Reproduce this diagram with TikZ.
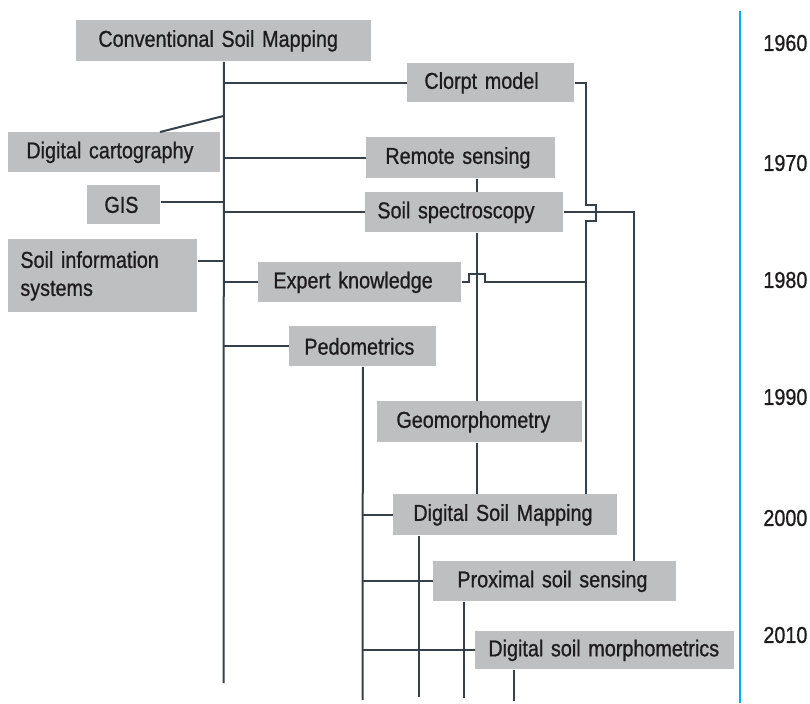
\documentclass[tikz,border=0pt]{standalone}
\usepackage{fontspec}
\setmainfont[FakeStretch=0.86, FakeBold=0.8]{Liberation Sans}
\usepackage{tikz}
\usetikzlibrary{calc,positioning}

\definecolor{boxgray}{RGB}{190,191,193}
\definecolor{linegray}{RGB}{52,64,74}
\definecolor{textdark}{RGB}{30,27,28}
\definecolor{timeblue}{RGB}{0,174,239}

\tikzset{
    box/.style={fill=boxgray, text=textdark, anchor=north west, align=left,
        minimum height=20pt, inner ysep=0pt},
    link/.style={draw=linegray, line width=1pt},
    year/.style={anchor=west, inner sep=0pt, text=textdark},
}

\begin{document}
\begin{tikzpicture}[x=0.5pt, y=-0.5pt, font=\fontsize{11.5}{14}\selectfont]
    \useasboundingbox (0,0) rectangle (810,703);

    % boxes
    \node[box, text width=125.5pt, inner xsep=11pt, minimum height=20.5pt] (csm) at (76,20) {Conventional Soil Mapping};
    \node[box, text width=66.5pt, inner xsep=8.5pt, minimum height=19.5pt] (clorpt) at (407,63) {Clorpt model};
    \node[box, text width=88pt, inner xsep=9pt] (dcart) at (8,132) {Digital cartography};
    \node[box, text width=75.5pt, inner xsep=9.5pt, minimum height=20.5pt] (rs) at (366,137) {Remote sensing};
    \node[box, text width=19.5pt, inner xsep=8.5pt, minimum height=19.5pt] (gis) at (87,185) {GIS};
    \node[box, text width=87pt, inner xsep=6pt] (spec) at (365,192) {Soil spectroscopy};
    \node[box, text width=82.5pt, inner xsep=6pt, minimum height=36.5pt] (sis) at (8,239) {Soil information\\systems};
    \node[box, text width=86.5pt, inner xsep=7.5pt] (expert) at (258,262) {Expert knowledge};
    \node[box, text width=58.5pt, inner xsep=7.5pt] (pedo) at (289,326) {Pedometrics};
    \node[box, text width=83.5pt, inner xsep=9.5pt, minimum height=20.5pt] (geo) at (377,401) {Geomorphometry};
    \node[box, text width=92pt, inner xsep=10pt, minimum height=20.5pt] (dsm) at (393,494) {Digital Soil Mapping};
    \node[box, text width=97.5pt, inner xsep=12pt] (prox) at (433,561) {Proximal soil sensing};
    \node[box, text width=116.5pt, inner xsep=6.5pt, minimum height=19pt] (dsmorph) at (475,631) {Digital soil morphometrics};

    % free ends
    \coordinate (mainend) at (223.5,683);
    \coordinate (dcartjoin) at (223.5,116);
    \coordinate (geox) at (477,0);
    \coordinate (pedoend) at (362.5,700);
    \coordinate (dsmend) at (419,697);
    \coordinate (proxend) at (464,698);
    \coordinate (dsmorphend) at (514,701);

    % main stem
    \draw[link] (csm.south) -- (mainend);
    \draw[link] (clorpt.west) -- (clorpt.west -| mainend);
    \draw[link] ($(dcart.north west)+(152,0)$) -- (dcartjoin);
    \draw[link] (rs.west) -- (rs.west -| mainend);
    \draw[link] ([yshift=1.5pt]gis.east) -- ([yshift=1.5pt]gis.east -| mainend);
    \draw[link] (spec.west) -- (spec.west -| mainend);
    \draw[link] ([yshift=7.5pt]sis.east) -- ([yshift=7.5pt]sis.east -| mainend);
    \draw[link] (expert.west) -- (expert.west -| mainend);
    \draw[link] (pedo.west) -- (pedo.west -| mainend);

    % sensing branch
    \draw[link] (rs.south -| geox) -- (spec.north -| geox);
    \draw[link] (spec.south -| geox) -- (geo.north -| geox);
    \draw[link] (geo.south -| geox) -- (dsm.north -| geox);

    % clorpt branch, jumping over the spectroscopy line
    \draw[link] (clorpt.east) -- ++(11,0) coordinate (clx)
        -- ($(clx |- spec.east)+(0,-7)$) -- ++(10,0) -- ++(0,16) -- ++(-10,0)
        -- (clx |- dsm.north);
    \draw[link] (spec.east) -| ($(prox.north east)+(-43,0)$);
    \draw[link] (expert.east) -- ++(7,0) -- ++(0,-8) -- ++(16,0) -- ++(0,8)
        -- (expert.east -| clx);

    % pedometrics branch
    \draw[link] (pedo.south) -- (pedoend);
    \draw[link] (dsm.west) -- (dsm.west -| pedoend);
    \draw[link] (prox.west) -- (prox.west -| pedoend);
    \draw[link] (dsmorph.west) -- (dsmorph.west -| pedoend);
    \draw[link] (dsm.south -| dsmend) -- (dsmend);
    \draw[link] (prox.south -| proxend) -- (proxend);
    \draw[link] (dsmorph.south -| dsmorphend) -- (dsmorphend);

    % time axis
    \draw[timeblue, line width=1.3pt] (740,11) -- (740,703);
    \foreach \yr/\ypos in {1960/43, 1970/163, 1980/280, 1990/397, 2000/518, 2010/635}
        \node[year] (y\yr) at (763,\ypos) {\yr};

\end{tikzpicture}
\end{document}
